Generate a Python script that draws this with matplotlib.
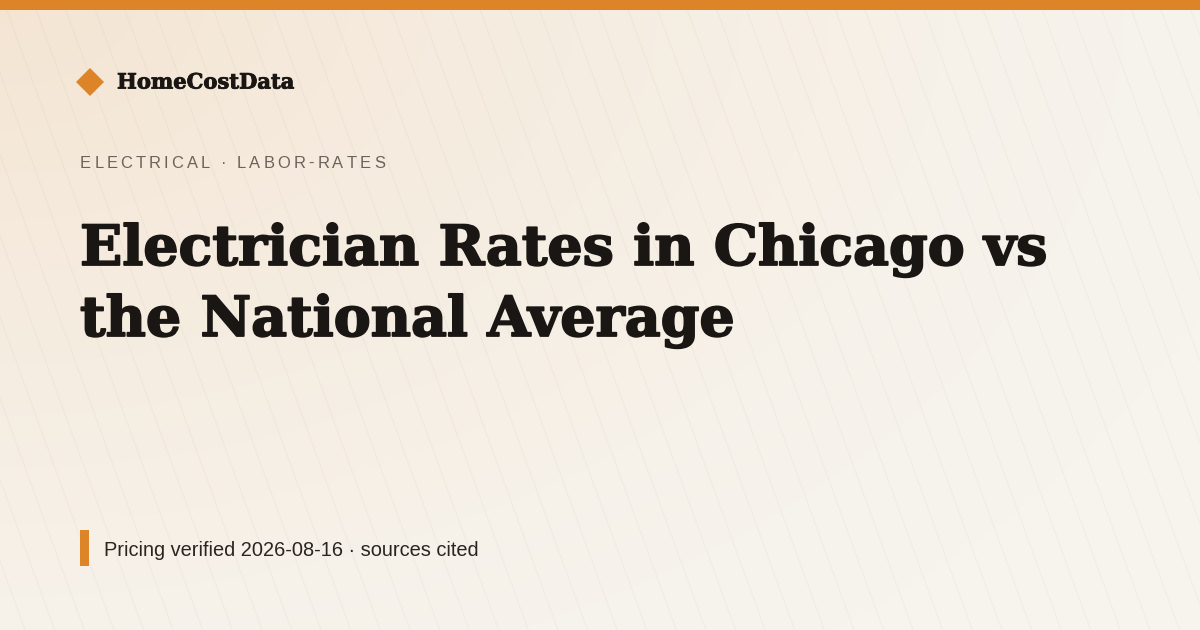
import matplotlib
matplotlib.use("Agg")
import matplotlib.pyplot as plt
import matplotlib.patheffects as pe
import numpy as np
from matplotlib.patches import Polygon, Rectangle

# card texts
brand = "HomeCostData"
kicker = "ELECTRICAL · LABOR-RATES"
title_lines = ["Electrician Rates in Chicago vs", "the National Average"]
footer = "Pricing verified 2026-08-16 · sources cited"

W, H = 1200, 630
ORANGE = "#dc8427"
INK = "#1a1613"
GREY = "#6b635b"


def px(v):
    '''pixel size -> points at dpi 100'''
    return v * 0.72


def fit_width(ax, renderer, txt, width):
    '''scale a text so its drawn width matches the target width in pixels'''
    bb = txt.get_window_extent(renderer)
    txt.set_fontsize(txt.get_fontsize() * width / bb.width)
    return txt.get_fontsize()


fig = plt.figure(figsize=(W / 100, H / 100), dpi=100)
ax = fig.add_axes([0, 0, 1, 1])
ax.set_xlim(0, W)
ax.set_ylim(H, 0)
ax.axis("off")
renderer = fig.canvas.get_renderer()

# warm radial wash from the top-left corner
yy, xx = np.mgrid[0:H, 0:W]
d = np.sqrt((xx / 1300.0) ** 2 + (yy / 820.0) ** 2)
t = np.clip(1 - d, 0, 1) ** 1.3
base = np.array([247, 244, 238]) / 255.0
peach = np.array([244, 229, 211]) / 255.0
bg = base + (peach - base) * t[..., None]
ax.imshow(bg, extent=(0, W, H, 0), zorder=0, interpolation="bilinear")

# faint diagonal pinstripes
slope = 0.364
for k in range(-10, 44):
    x0 = 3 + 29.6 * k
    ax.plot([x0, x0 + slope * H], [0, H], color="#7a5a35", alpha=0.045,
            lw=0.9, zorder=1, solid_capstyle="butt")

# top accent bar
ax.add_patch(Rectangle((0, 0), W, 10, color=ORANGE, lw=0, zorder=3))

# brand mark
cx, cy, r = 90, 82, 14
ax.add_patch(Polygon([(cx - r, cy), (cx, cy - r), (cx + r, cy), (cx, cy + r)],
                     closed=True, color=ORANGE, lw=0, zorder=3))
b = ax.text(117, 88.5, brand, fontsize=px(22), family="DejaVu Serif",
            weight="bold", color=INK, va="baseline", ha="left", zorder=4,
            path_effects=[pe.withStroke(linewidth=0.6, foreground=INK)])
fit_width(ax, renderer, b, 177)

# letter-spaced kicker, drawn one glyph at a time
kfs = px(16.5)
widths = []
for c in kicker:
    if c == " ":
        widths.append(0.278 * 16.5)
    else:
        tmp = ax.text(0, 0, c, fontsize=kfs, family="Liberation Sans")
        widths.append(tmp.get_window_extent(renderer).width)
        tmp.remove()
gap = (385 - 80 - sum(widths)) / (len(kicker) - 1)
x = 80
for c, w in zip(kicker, widths):
    if c != " ":
        ax.text(x, 168, c, fontsize=kfs, family="Liberation Sans", color=GREY,
                va="baseline", ha="left", zorder=4)
    x += w + gap

# headline
bold = [pe.withStroke(linewidth=1.3, foreground=INK)]
t1 = ax.text(80, 265, title_lines[0], fontsize=px(60), family="DejaVu Serif",
             weight="bold", color=INK, va="baseline", ha="left", zorder=4,
             path_effects=bold)
fs = fit_width(ax, renderer, t1, 968)
ax.text(80, 336, title_lines[1], fontsize=fs, family="DejaVu Serif",
        weight="bold", color=INK, va="baseline", ha="left", zorder=4,
        path_effects=bold)

# footer
ax.add_patch(Rectangle((80, 530), 9, 36, color=ORANGE, lw=0, zorder=3))
f = ax.text(104, 556, footer, fontsize=px(20), family="Liberation Sans",
            color="#2a2521", va="baseline", ha="left", zorder=4)
fit_width(ax, renderer, f, 374)

fig.savefig("out.png", dpi=100)
